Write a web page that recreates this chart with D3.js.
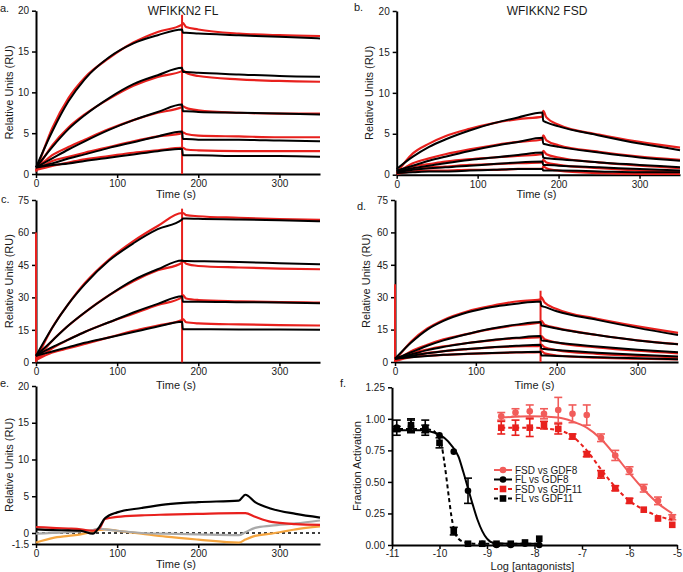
<!DOCTYPE html>
<html>
<head>
<meta charset="utf-8">
<script src="https://d3js.org/d3.v7.min.js"></script>
<style>
  body { margin: 0; background: #fff; }
  text { font-family: "Liberation Sans", Arial, sans-serif; fill: #1a1a1a; }
</style>
</head>
<body>
<svg width="683" height="572"></svg>
<script>
// ---- sensorgram time grids (s) ----
var tAssoc = [0, 20, 40, 60, 90, 120, 150, 180];
var tDiss = [181, 185, 200, 250, 300, 350];

// ---- panel a: WFIKKN2 FL vs GDF8 ----
var aFitAssoc = [
  [0.8, 5.2, 8.9, 11.6, 14.3, 16.0, 17.0, 17.7],
  [0.8, 3.3, 5.5, 7.2, 9.3, 11.0, 12.1, 13.0],
  [0.8, 1.9, 3.0, 4.0, 5.4, 6.6, 7.6, 8.5],
  [0.8, 1.3, 1.9, 2.4, 3.2, 3.9, 4.6, 5.2],
  [0.8, 1.1, 1.3, 1.6, 2.0, 2.4, 2.8, 3.1]];
var aFitDiss = [
  [17.3, 17.3, 17.2, 17.0, 16.8, 16.6],
  [12.5, 12.5, 12.4, 12.2, 12.0, 11.9],
  [7.7, 7.7, 7.6, 7.5, 7.4, 7.3],
  [4.3, 4.3, 4.2, 4.2, 4.1, 4.0],
  [2.3, 2.3, 2.3, 2.2, 2.2, 2.1]];
var aRedAssoc = [
  [0.3, 5.6, 9.3, 11.8, 14.2, 16.1, 17.4, 18.3],
  [0.4, 3.5, 5.7, 7.3, 9.2, 10.8, 11.9, 12.6],
  [0.5, 2.3, 3.3, 4.2, 5.5, 6.6, 7.5, 8.2],
  [0.5, 1.6, 2.1, 2.6, 3.3, 4.0, 4.6, 5.0],
  [0.5, 1.0, 1.4, 1.8, 2.2, 2.6, 2.9, 3.2]];
var aRedDiss = [
  [18.5, 18.0, 17.7, 17.2, 17.0, 16.9],
  [12.7, 12.4, 12.0, 11.6, 11.4, 11.3],
  [8.3, 8.1, 7.8, 7.5, 7.4, 7.4],
  [5.1, 4.9, 4.7, 4.6, 4.5, 4.5],
  [3.2, 3.0, 2.9, 2.8, 2.8, 2.8]];
var aSpikes = [[180, 0, 19.5]];

// ---- panel b: WFIKKN2 FSD vs GDF8 ----
var bFitAssoc = [
  [0.7, 2.2, 3.4, 4.3, 5.4, 6.3, 7.0, 7.6],
  [0.5, 1.1, 1.7, 2.2, 2.9, 3.5, 4.0, 4.5],
  [0.4, 0.8, 1.1, 1.4, 1.8, 2.1, 2.4, 2.7],
  [0.3, 0.6, 0.8, 0.9, 1.1, 1.3, 1.5, 1.6],
  [0.2, 0.3, 0.4, 0.4, 0.5, 0.6, 0.7, 0.7]];
var bFitDiss = [
  [6.6, 6.4, 5.9, 4.8, 3.8, 3.0],
  [3.8, 3.7, 3.4, 2.7, 2.1, 1.7],
  [2.1, 2.0, 1.9, 1.5, 1.2, 0.9],
  [1.2, 1.2, 1.1, 0.9, 0.7, 0.5],
  [0.5, 0.5, 0.5, 0.4, 0.3, 0.3]];
var bRedAssoc = [
  [0.2, 2.6, 3.8, 4.7, 5.6, 6.3, 6.8, 7.1],
  [0.2, 1.4, 2.0, 2.5, 3.1, 3.6, 4.0, 4.3],
  [0.2, 1.0, 1.3, 1.6, 1.9, 2.1, 2.3, 2.5],
  [0.2, 0.7, 0.9, 1.0, 1.2, 1.3, 1.4, 1.5],
  [0.1, 0.4, 0.5, 0.5, 0.6, 0.6, 0.7, 0.7]];
var bRedDiss = [
  [7.8, 7.0, 6.1, 4.9, 4.0, 3.3],
  [4.8, 4.2, 3.6, 2.8, 2.2, 1.8],
  [2.9, 2.5, 2.1, 1.5, 1.1, 0.8],
  [1.8, 1.5, 1.2, 0.8, 0.5, 0.4],
  [1.0, 0.8, 0.5, 0.2, 0.1, 0.1]];
var bSpikes = [];

// ---- panel c: WFIKKN2 FL vs GDF11 ----
var cFitAssoc = [
  [3, 16, 27, 36, 47, 55, 61.5, 66],
  [3, 10, 17, 23, 31, 38, 43, 47],
  [3, 7, 10.5, 14, 18.5, 23, 27, 30.5],
  [3, 5, 7, 9, 11.5, 14, 16.5, 18.7]];
var cFitDiss = [
  [66.5, 66.5, 66.3, 66, 65.6, 65.2],
  [46.8, 46.8, 46.7, 46.3, 45.8, 45.3],
  [28, 28, 28, 27.8, 27.6, 27.3],
  [15.3, 15.3, 15.3, 15.2, 15.1, 15.0]];
var cRedAssoc = [
  [1, 16, 27, 36.5, 47.5, 56, 63, 69],
  [1, 10, 17, 23, 31, 37.5, 42.5, 46],
  [1, 6.5, 10.5, 14, 18.5, 22.5, 26.5, 30],
  [1, 4.5, 6.5, 8.5, 11.5, 14.5, 17, 19.5]];
var cRedDiss = [
  [69, 68, 67.5, 66.8, 66.2, 65.8],
  [47, 45.5, 44.5, 43.8, 43.3, 43.0],
  [31, 29.5, 28.8, 28.2, 27.8, 27.6],
  [20, 18.5, 18, 17.5, 17.2, 17.0]];
var cSpikes = [[0, 0, 60], [180, 0, 71]];

// ---- panel d: WFIKKN2 FSD vs GDF11 ----
var dFitAssoc = [
  [1.5, 9, 15, 19, 23, 25.5, 27, 28],
  [1.5, 4.5, 7.5, 10, 13, 15.5, 17.3, 18.5],
  [1.5, 3.5, 5.5, 7, 8.8, 10.2, 11.2, 12],
  [1.5, 2.8, 4, 5, 6, 6.8, 7.5, 8],
  [1.5, 2.2, 2.8, 3.3, 3.8, 4.2, 4.5, 4.7]];
var dFitDiss = [
  [26, 25.5, 23.5, 19.5, 15.8, 12.5],
  [17, 16.7, 15.5, 12.5, 10, 8.2],
  [10, 9.8, 9, 7.2, 5.7, 4.5],
  [6.2, 6, 5.5, 4.3, 3.3, 2.5],
  [3, 3, 2.8, 2.2, 1.7, 1.3]];
var dRedAssoc = [
  [0.5, 9.5, 15.5, 19.5, 23.5, 26, 28, 29],
  [0.5, 5, 8, 10.5, 13, 15.3, 17, 18.3],
  [0.5, 4, 5.8, 7.2, 8.8, 10, 11, 11.5],
  [0.5, 3, 4.2, 5, 6, 6.8, 7.2, 7.5],
  [0.5, 2.2, 2.9, 3.3, 3.8, 4.1, 4.4, 4.6]];
var dRedDiss = [
  [30, 27.5, 24.5, 20, 16.5, 13.5],
  [19, 17.3, 15.8, 12.5, 10, 8.3],
  [12, 10.5, 9, 6.8, 5.2, 4],
  [8, 6.8, 5.5, 3.8, 2.8, 2.2],
  [5, 4, 3, 2, 1.5, 1.2]];
var dSpikes = [[0, 0, 36], [180, 0, 33]];

// ---- panel e: control injections ----
var eTime = [0, 20, 40, 55, 70, 78, 85, 100, 130, 160, 200, 250, 258, 270, 290, 320, 350];
var eBlack  = [0.5, 0.4, 0.35, 0.3, -0.1, 0.8, 2.0, 2.8, 3.4, 3.9, 4.2, 4.4, 5.2, 4.2, 3.3, 2.6, 2.1];
var eRed    = [0.8, 0.7, 0.6, 0.5, 0.3, 0.6, 1.9, 2.2, 2.4, 2.5, 2.6, 2.7, 2.7, 2.2, 1.5, 1.2, 1.1];
var eGray   = [-0.1, 0.0, 0.1, 0.2, 0.4, 0.6, 0.5, 0.3, 0.0, -0.1, -0.2, -0.3, 0.1, 0.7, 1.0, 1.3, 1.7];
var eOrange = [-1.3, -0.7, -0.4, -0.2, 0.2, 0.4, 0.5, 0.3, -0.1, -0.5, -0.9, -1.3, -0.9, -0.4, -0.1, 0.5, 0.9];

// ---- panel f: luciferase inhibition ----
var flX = [-10.9, -10.6, -10.3, -10.0, -9.7, -9.4, -9.1, -8.8, -8.5, -8.2, -7.9];
var flGdf8 = [0.93, 0.94, 0.93, 0.87, 0.74, 0.43, 0.01, 0.0, 0.0, 0.01, 0.0];
var flGdf8Err = [0.06, 0.05, 0.06, 0.01, 0.01, 0.10, 0.01, 0.0, 0.01, 0.01, 0.0];
var flGdf11 = [0.92, 0.95, 0.92, 0.81, 0.11, 0.01, 0.01, 0.01, 0.01, 0.02, 0.05];
var flGdf11Err = [0.02, 0.05, 0.03, 0.04, 0.03, 0.01, 0.0, 0.0, 0.0, 0.01, 0.0];
var fsdX = [-8.7, -8.4, -8.1, -7.8, -7.5, -7.2, -6.9, -6.6, -6.3, -6.0, -5.7, -5.4, -5.1];
var fsdGdf8 = [1.02, 1.05, 1.06, 1.04, 1.07, 1.04, 1.03, 0.85, 0.71, 0.59, 0.45, 0.35, 0.22];
var fsdGdf8Err = [0.03, 0.03, 0.05, 0.04, 0.10, 0.07, 0.08, 0.03, 0.04, 0.03, 0.03, 0.03, 0.02];
var fsdGdf11 = [0.93, 0.93, 0.93, 0.95, 0.92, 0.86, 0.72, 0.56, 0.45, 0.35, 0.28, 0.21, 0.16];
var fsdGdf11Err = [0.05, 0.06, 0.07, 0.03, 0.04, 0.02, 0.02, 0.03, 0.02, 0.02, 0.01, 0.01, 0.0];
var flGdf8FitX = [-11, -10.4, -10.1, -9.9, -9.75, -9.6, -9.5, -9.4, -9.3, -9.2, -9.1, -9.0, -8.85, -8.5, -7.9];
var flGdf8FitY = [0.91, 0.91, 0.89, 0.85, 0.79, 0.70, 0.58, 0.45, 0.32, 0.20, 0.11, 0.05, 0.015, 0.01, 0.01];
var flGdf11FitX = [-11, -10.4, -10.15, -10.05, -9.95, -9.9, -9.85, -9.8, -9.75, -9.7, -9.6, -9.45, -9.2, -7.9];
var flGdf11FitY = [0.92, 0.92, 0.91, 0.87, 0.78, 0.66, 0.52, 0.37, 0.23, 0.13, 0.05, 0.02, 0.01, 0.01];
var fsdFitX = [-8.7, -8.1, -7.5, -7.2, -6.9, -6.6, -6.3, -6.0, -5.7, -5.4, -5.1];
var fsdGdf8FitY = [1.01, 1.02, 1.01, 0.98, 0.93, 0.84, 0.71, 0.57, 0.44, 0.33, 0.25];
var fsdGdf11FitY = [0.93, 0.93, 0.91, 0.86, 0.75, 0.60, 0.46, 0.35, 0.28, 0.23, 0.20];

var RED = "#e8201d", PINK = "#f15c5a";

var svg = d3.select("svg");

function frame(p) {
  var x = d3.scaleLinear().domain(p.xd).range([p.left, p.right]);
  var y = d3.scaleLinear().domain(p.yd).range([p.bottom, p.top]);
  var gx = svg.append("g")
      .attr("transform", "translate(0," + p.bottom + ")")
      .call(d3.axisBottom(x).tickValues(p.xt).tickSize(4).tickSizeOuter(0).tickPadding(p.xpad || 2)
        .tickFormat(function(d) { return String(d); }));
  var gy = svg.append("g")
      .attr("transform", "translate(" + p.left + ",0)")
      .call(d3.axisLeft(y).tickValues(p.yt).tickSize(4).tickSizeOuter(0).tickPadding(3)
        .tickFormat(p.yf || function(d) { return String(d); }));
  [gx, gy].forEach(function(g) {
    g.select(".domain").attr("stroke", "#000").attr("stroke-width", 2);
    g.selectAll(".tick line").attr("stroke", "#000").attr("stroke-width", 1.5);
    g.selectAll(".tick text").attr("font-size", 10).attr("fill", "#1a1a1a")
      .style("font-family", "'Liberation Sans', Arial, sans-serif");
  });
  svg.append("text").attr("x", (p.left + p.right) / 2 - 2).attr("y", p.xlabY)
    .attr("text-anchor", "middle").attr("font-size", 11).text(p.xlab);
  svg.append("text").attr("transform", "translate(" + p.ylabX + "," + (p.top + p.bottom) / 2 + ") rotate(-90)")
    .attr("text-anchor", "middle").attr("font-size", 11).text(p.ylab);
  svg.append("text").attr("x", p.tagX).attr("y", p.tagY).attr("font-size", 11).text(p.tag);
  return { x: x, y: y };
}

function spr(p, fitA, fitD, redA, redD, spikes) {
  var s = frame(p);
  var line = d3.line().x(function(d) { return s.x(d[0]); }).y(function(d) { return s.y(d[1]); })
    .curve(d3.curveMonotoneX);
  function join(a, b) {
    return tAssoc.map(function(t, i) { return [t, a[i]]; })
      .concat(tDiss.map(function(t, i) { return [t, b[i]]; }));
  }
  spikes.forEach(function(sp) {
    svg.append("line").attr("x1", s.x(sp[0])).attr("x2", s.x(sp[0]))
      .attr("y1", s.y(sp[1])).attr("y2", s.y(sp[2]))
      .attr("stroke", RED).attr("stroke-width", 2);
  });
  redA.forEach(function(a, i) {
    svg.append("path").attr("d", line(join(a, redD[i])))
      .attr("fill", "none").attr("stroke", RED).attr("stroke-width", 2.2);
  });
  fitA.forEach(function(a, i) {
    svg.append("path").attr("d", line(join(a, fitD[i])))
      .attr("fill", "none").attr("stroke", "#000").attr("stroke-width", 2);
  });
}

var tTicks = [0, 100, 200, 300];

spr({ left: 36, right: 320, top: 10.7, bottom: 174, xd: [0, 350], yd: [0, 20], xt: tTicks, yt: [0, 5, 10, 15, 20],
      xlab: "Time (s)", xlabY: 198, ylab: "Relative Units (RU)", ylabX: 13, tag: "a.", tagX: 0, tagY: 12 },
    aFitAssoc, aFitDiss, aRedAssoc, aRedDiss, aSpikes);
spr({ left: 396.7, right: 680, top: 11, bottom: 174.7, xd: [0, 350], yd: [0, 20], xt: tTicks, yt: [0, 5, 10, 15, 20],
      xlab: "Time (s)", xlabY: 198, ylab: "Relative Units (RU)", ylabX: 373, tag: "b.", tagX: 354, tagY: 11 },
    bFitAssoc, bFitDiss, bRedAssoc, bRedDiss, bSpikes);
spr({ left: 36, right: 320, top: 200, bottom: 362.3, xd: [0, 350], yd: [0, 75], xt: tTicks, yt: [0, 15, 30, 45, 60, 75],
      xlab: "Time (s)", xlabY: 389, ylab: "Relative Units (RU)", ylabX: 13, tag: "c.", tagX: 1, tagY: 203 },
    cFitAssoc, cFitDiss, cRedAssoc, cRedDiss, cSpikes);
spr({ left: 395, right: 678, top: 200, bottom: 362, xd: [0, 350], yd: [0, 75], xt: tTicks, yt: [0, 15, 30, 45, 60, 75],
      xlab: "Time (s)", xlabY: 389, ylab: "Relative Units (RU)", ylabX: 370, tag: "d.", tagX: 357, tagY: 210 },
    dFitAssoc, dFitDiss, dRedAssoc, dRedDiss, dSpikes);

svg.append("text").attr("x", 183).attr("y", 15).attr("text-anchor", "middle").attr("font-size", 12).text("WFIKKN2 FL");
svg.append("text").attr("x", 547).attr("y", 15).attr("text-anchor", "middle").attr("font-size", 12).text("WFIKKN2 FSD");

// panel e
(function() {
  var s = frame({ left: 36, right: 320, top: 386, bottom: 544, xd: [0, 350], yd: [-1.5, 20], xt: tTicks,
                  yt: [-1.5, 0, 5, 10, 15, 20], xlab: "Time (s)", xlabY: 568, ylab: "Relative Units (RU)",
                  ylabX: 13, tag: "e.", tagX: 0, tagY: 387 });
  svg.append("line").attr("x1", s.x(0)).attr("x2", s.x(350)).attr("y1", s.y(0)).attr("y2", s.y(0))
    .attr("stroke", "#000").attr("stroke-width", 1.5).attr("stroke-dasharray", "3,3");
  var line = d3.line().x(function(d, i) { return s.x(eTime[i]); }).y(function(d) { return s.y(d); })
    .curve(d3.curveMonotoneX);
  [[eOrange, "#f5a53f"], [eGray, "#a9a9a9"], [eRed, RED], [eBlack, "#000"]].forEach(function(e) {
    svg.append("path").attr("d", line(e[0])).attr("fill", "none").attr("stroke", e[1]).attr("stroke-width", 2.2);
  });
})();

// panel f
(function() {
  var s = frame({ left: 392, right: 677, top: 387.3, bottom: 545, xd: [-11, -5], yd: [0, 1.25],
                  xt: [-11, -10, -9, -8, -7, -6, -5], yt: [0, 0.25, 0.5, 0.75, 1, 1.25], xpad: 1,
                  yf: function(d) { return d.toFixed(2); },
                  xlab: "Log [antagonists]", xlabY: 570, ylab: "Fraction Activation", ylabX: 361,
                  tag: "f.", tagX: 340, tagY: 387 });
  var line = d3.line().x(function(d) { return s.x(d[0]); }).y(function(d) { return s.y(d[1]); })
    .curve(d3.curveMonotoneX);
  function zip(a, b) { return a.map(function(v, i) { return [v, b[i]]; }); }

  var series = [
    { fx: fsdFitX, fy: fsdGdf8FitY, x: fsdX, y: fsdGdf8, e: fsdGdf8Err, col: PINK, dash: null, shape: "circle", name: "FSD vs GDF8" },
    { fx: flGdf8FitX, fy: flGdf8FitY, x: flX, y: flGdf8, e: flGdf8Err, col: "#000", dash: null, shape: "circle", name: "FL vs GDF8" },
    { fx: fsdFitX, fy: fsdGdf11FitY, x: fsdX, y: fsdGdf11, e: fsdGdf11Err, col: RED, dash: "4,3", shape: "square", name: "FSD vs GDF11" },
    { fx: flGdf11FitX, fy: flGdf11FitY, x: flX, y: flGdf11, e: flGdf11Err, col: "#000", dash: "4,3", shape: "square", name: "FL vs GDF11" }
  ];

  function marker(g, cx, cy, shape, col) {
    if (shape === "circle") g.append("circle").attr("cx", cx).attr("cy", cy).attr("r", 3.3).attr("fill", col);
    else g.append("rect").attr("x", cx - 3.3).attr("y", cy - 3.3).attr("width", 6.6).attr("height", 6.6).attr("fill", col);
  }

  series.forEach(function(sr) {
    svg.append("path").attr("d", line(zip(sr.fx, sr.fy))).attr("fill", "none")
      .attr("stroke", sr.col).attr("stroke-width", 2).attr("stroke-dasharray", sr.dash);
    var g = svg.append("g");
    sr.x.forEach(function(xv, i) {
      var cx = s.x(xv), lo = s.y(sr.y[i] - sr.e[i]), hi = s.y(sr.y[i] + sr.e[i]);
      if (sr.e[i] > 0.015) {
        g.append("line").attr("x1", cx).attr("x2", cx).attr("y1", lo).attr("y2", hi).attr("stroke", sr.col).attr("stroke-width", 1.6);
        [lo, hi].forEach(function(yy) {
          g.append("line").attr("x1", cx - 4).attr("x2", cx + 4).attr("y1", yy).attr("y2", yy).attr("stroke", sr.col).attr("stroke-width", 1.6);
        });
      }
      marker(g, cx, s.y(sr.y[i]), sr.shape, sr.col);
    });
  });

  // legend
  var lg = svg.append("g");
  series.forEach(function(sr, i) {
    var yy = 470 + i * 9.5;
    lg.append("line").attr("x1", 494).attr("x2", 512).attr("y1", yy).attr("y2", yy)
      .attr("stroke", sr.col).attr("stroke-width", 2).attr("stroke-dasharray", sr.dash);
    marker(lg, 503, yy, sr.shape, sr.col);
    lg.append("text").attr("x", 515).attr("y", yy + 3.5).attr("font-size", 10).text(sr.name);
  });
})();
</script>
</body>
</html>
